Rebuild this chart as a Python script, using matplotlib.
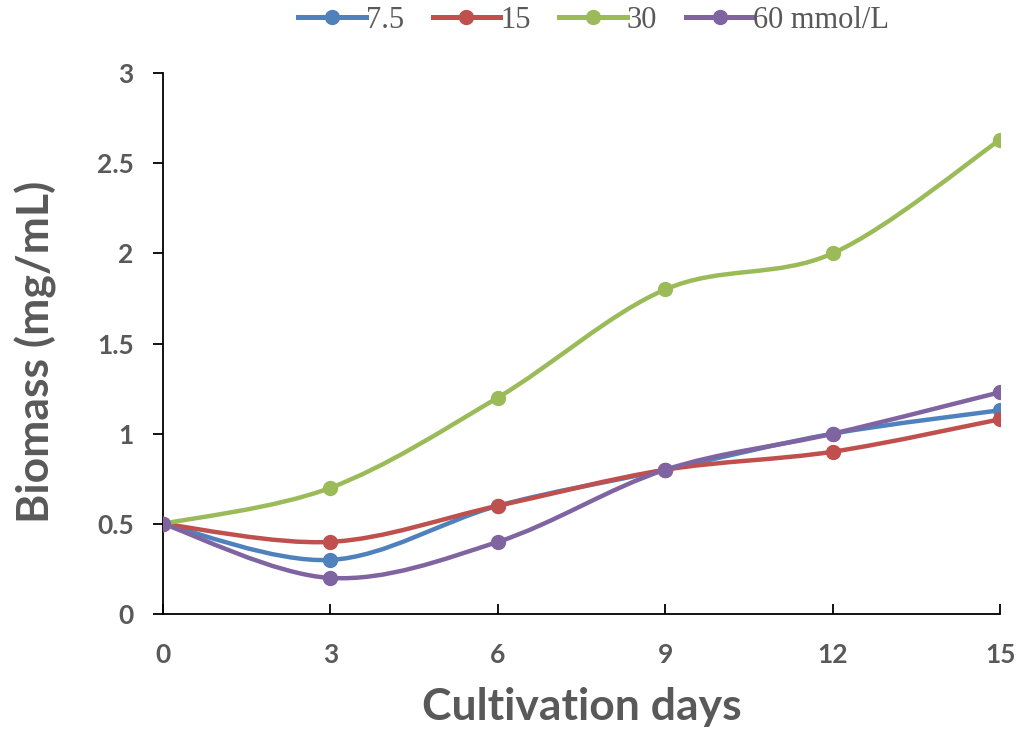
import numpy as np
import matplotlib.pyplot as plt
from matplotlib.path import Path
from matplotlib.patches import PathPatch
from matplotlib.lines import Line2D

days = [0, 3, 6, 9, 12, 15]
series_names = ['7.5', '15', '30', '60 mmol/L']
b_75 = [0.5, 0.3, 0.6, 0.8, 1.0, 1.13]
b_15 = [0.5, 0.4, 0.6, 0.8, 0.9, 1.08]
b_30 = [0.5, 0.7, 1.2, 1.8, 2.0, 2.63]
b_60 = [0.5, 0.2, 0.4, 0.8, 1.0, 1.23]
colors = ['#4F81BD', '#C0504D', '#9BBB59', '#8064A2']

gray = '#595959'
tick_font = 'Lato'


def smooth_path(x, y):
    # Excel-like smoothed line: cubic Bezier through the points (Catmull-Rom, 1/6 tension)
    p = np.column_stack([x, y]).astype(float)
    n = len(p)
    verts = [p[0]]
    codes = [Path.MOVETO]
    for i in range(n - 1):
        p0 = p[i - 1] if i > 0 else p[i]
        p3 = p[i + 2] if i + 2 < n else p[i + 1]
        c1 = p[i] + (p[i + 1] - p0) / 6
        c2 = p[i + 1] - (p3 - p[i]) / 6
        verts += [c1, c2, p[i + 1]]
        codes += [Path.CURVE4] * 3
    return Path(verts, codes)


fig = plt.figure(figsize=(10.22, 7.38), dpi=100)
ax = fig.add_axes([0.1595, 0.168, 0.819, 0.733])

handles = []
for vals, col, name in zip([b_75, b_15, b_30, b_60], colors, series_names):
    ax.add_patch(PathPatch(smooth_path(days, vals), facecolor='none', edgecolor=col,
                           lw=3.2, capstyle='round', zorder=3))
    ax.plot(days, vals, 'o', color=col, markersize=10, zorder=4)
    handles.append(Line2D([], [], color=col, lw=3.6, marker='o', markersize=10))

ax.set_xlim(0, 15)
ax.set_ylim(0, 3)
ax.set_xticks(days)
ax.set_yticks([0, 0.5, 1, 1.5, 2, 2.5, 3])
ax.set_yticklabels(['0', '0.5', '1', '1.5', '2', '2.5', '3'])
for s in ['top', 'right']:
    ax.spines[s].set_visible(False)
for s in ['left', 'bottom']:
    ax.spines[s].set_linewidth(1.3)
    ax.spines[s].set_clip_on(False)
ax.tick_params(axis='x', direction='in', length=7, width=1.3, pad=21)
ax.tick_params(axis='y', direction='out', length=7, width=1.3, pad=14)
for lab in ax.get_xticklabels() + ax.get_yticklabels():
    lab.set_fontfamily(tick_font)
    lab.set_fontweight('bold')
    lab.set_fontsize(19)
    lab.set_color(gray)

ax.set_xlabel('Cultivation days', fontfamily=tick_font, fontweight='bold',
              fontsize=32, color=gray, labelpad=14)
ax.set_ylabel('Biomass (mg/mL)', fontfamily=tick_font, fontweight='bold',
              fontsize=32, color=gray)
ax.yaxis.set_label_coords(-0.127, 0.485)

fig.legend(handles, series_names, loc='center', bbox_to_anchor=(0.581, 0.972), ncol=4,
           frameon=False, handlelength=2.2, handletextpad=0.0, columnspacing=0.95,
           prop={'family': 'Liberation Serif', 'size': 22}, labelcolor=gray)

fig.savefig('out.png', dpi=100)
